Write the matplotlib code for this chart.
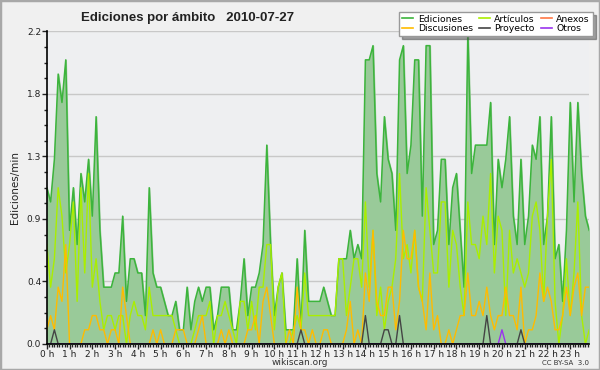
import matplotlib
matplotlib.use("Agg")
import matplotlib.pyplot as plt
from matplotlib.ticker import MultipleLocator, FormatStrFormatter
from matplotlib.patches import Rectangle
import numpy as np

# edits per 10-minute bin, 2010-07-27 (144 bins)
ediciones = [11, 10, 13, 19, 17, 20, 8, 11, 7, 12,
             10, 13, 9, 16, 8, 4, 4, 4, 5, 5,
             9, 3, 6, 6, 5, 5, 2, 11, 5, 4,
             4, 3, 2, 2, 3, 1, 1, 4, 1, 3,
             4, 3, 4, 4, 1, 2, 4, 4, 4, 1,
             1, 3, 6, 2, 4, 4, 5, 7, 14, 7,
             2, 4, 5, 1, 1, 1, 6, 1, 8, 3,
             3, 3, 3, 4, 3, 2, 2, 6, 6, 6,
             8, 6, 7, 6, 20, 20, 21, 12, 10, 16,
             13, 12, 8, 20, 21, 12, 14, 20, 20, 9,
             21, 21, 7, 8, 13, 13, 7, 11, 12, 8,
             4, 22, 12, 14, 14, 14, 14, 17, 7, 13,
             11, 13, 16, 9, 7, 13, 7, 9, 14, 13,
             16, 7, 9, 16, 6, 7, 3, 8, 17, 10,
             17, 12, 9, 8]
articulos = [7, 4, 6, 11, 9, 5, 7, 10, 3, 11,
             5, 12, 4, 6, 3, 1, 2, 2, 1, 2,
             2, 0, 2, 3, 2, 2, 1, 4, 2, 2,
             2, 2, 2, 2, 1, 0, 0, 0, 0, 1,
             2, 2, 2, 3, 0, 2, 2, 3, 2, 1,
             0, 3, 3, 1, 3, 1, 4, 4, 7, 7,
             1, 4, 5, 0, 0, 1, 2, 1, 5, 2,
             2, 2, 2, 2, 2, 2, 2, 6, 6, 2,
             4, 6, 6, 4, 10, 4, 8, 2, 4, 1,
             3, 4, 6, 12, 6, 7, 5, 8, 4, 3,
             11, 8, 5, 5, 10, 10, 4, 8, 7, 4,
             2, 10, 7, 7, 6, 9, 7, 12, 5, 9,
             8, 2, 8, 5, 6, 5, 4, 5, 9, 10,
             8, 3, 9, 13, 3, 0, 2, 6, 2, 5,
             10, 2, 0, 1]
discusiones = [1, 2, 1, 4, 3, 7, 0, 0, 0, 0,
               1, 1, 2, 2, 1, 1, 0, 1, 1, 0,
               4, 2, 0, 0, 0, 0, 0, 0, 1, 0,
               1, 0, 0, 0, 1, 1, 1, 0, 0, 0,
               1, 2, 0, 0, 0, 0, 1, 0, 1, 0,
               0, 0, 0, 1, 1, 2, 0, 3, 4, 2,
               0, 0, 0, 0, 1, 0, 4, 1, 1, 0,
               1, 0, 0, 1, 1, 0, 0, 0, 0, 1,
               3, 0, 1, 0, 5, 3, 8, 3, 2, 2,
               4, 4, 1, 3, 8, 6, 6, 8, 4, 3,
               1, 5, 1, 2, 0, 0, 1, 0, 1, 2,
               2, 5, 2, 2, 3, 2, 4, 2, 1, 2,
               2, 4, 2, 2, 1, 4, 0, 1, 1, 2,
               5, 3, 4, 3, 1, 1, 2, 4, 2, 4,
               5, 2, 4, 4]
proyecto = [0] * 144
for i, v in [(2, 1), (67, 1), (84, 2), (89, 1), (90, 1), (93, 2), (116, 2), (125, 1)]:
    proyecto[i] = v
otros = [0] * 144
otros[120] = 1
anexos = [0] * 144

hour_labels = ["%d h" % h for h in range(24)]

t = np.arange(144) / 6.0  # hours
to_min = lambda a: np.array(a) / 10.0  # edits per minute

fig = plt.figure(figsize=(6, 3.7), dpi=100, facecolor="#f0f0f0")
fig.patches.append(Rectangle((0, 0), 1, 1, transform=fig.transFigure,
                             fill=False, edgecolor="#a8a8a8", linewidth=2.5))
ax = fig.add_axes([0.078, 0.0703, 0.904, 0.8447])
ax.set_facecolor("#eeeff1")

ax.fill_between(t, to_min(ediciones), color="#99ca99", zorder=2)
l1, = ax.plot(t, to_min(ediciones), color="#3cb43c", lw=1.1, zorder=3, label="Ediciones")
l2, = ax.plot(t, to_min(articulos), color="#aaee00", lw=1.0, zorder=4, label="Artículos")
l4, = ax.plot(t, to_min(discusiones), color="#ffbb00", lw=1.0, zorder=5, label="Discusiones")
l5, = ax.plot(t, to_min(proyecto), color="#444444", lw=1.0, zorder=6, label="Proyecto")
l3, = ax.plot(t, to_min(anexos), color="#ff7744", lw=1.0, zorder=1, label="Anexos")
l6, = ax.plot(t, to_min(otros), color="#9933ee", lw=1.0, zorder=6, label="Otros")

ax.set_xlim(0, t[-1])
ax.set_ylim(0, 2.2)
ax.set_yticks(np.arange(6) * 0.44)
ax.yaxis.set_major_formatter(FormatStrFormatter("%.1f"))
ax.yaxis.set_minor_locator(MultipleLocator(0.11))
ax.set_xticks(range(24))
ax.set_xticklabels(hour_labels)
ax.xaxis.set_minor_locator(MultipleLocator(1 / 9.0))
ax.grid(axis="y", color="#c8c8c8", lw=1.0, zorder=0)
ax.set_axisbelow(True)
for s in ["top", "right"]:
    ax.spines[s].set_visible(False)
ax.spines["left"].set_linewidth(1.2)
ax.spines["bottom"].set_linewidth(1.2)
ax.spines["left"].set_zorder(8)
ax.spines["bottom"].set_zorder(8)
ax.tick_params(axis="both", which="major", length=3.5, width=1, labelsize=6.5, pad=0.5, colors="#222222")
ax.tick_params(axis="both", which="minor", length=2.5, width=1, colors="#222222")
ax.set_ylabel("Ediciones/min", fontsize=7.5, labelpad=5, color="#222222")

fig.text(0.313, 0.952, "Ediciones por ámbito   2010-07-27", ha="center", va="center",
         fontsize=9.5, fontweight="bold", color="#222222", family="Liberation Sans")
fig.text(0.5, 0.02, "wikiscan.org", ha="center", va="center", fontsize=6.5, color="#333333")
fig.text(0.982, 0.02, "CC BY-SA  3.0", ha="right", va="center", fontsize=5, color="#333333")

leg = fig.legend([l1, l4, l2, l5, l3, l6],
                 ["Ediciones", "Discusiones", "Artículos", "Proyecto", "Anexos", "Otros"],
                 ncol=3, loc="upper right", bbox_to_anchor=(0.988, 0.968), fontsize=6.7,
                 frameon=True, fancybox=False, shadow=True, handlelength=1.2,
                 handletextpad=0.5, columnspacing=0.6, labelspacing=0.05,
                 borderpad=0.3, borderaxespad=0.0)
leg.get_frame().set_edgecolor("#999999")
leg.get_frame().set_linewidth(1.0)
for line in leg.get_lines():
    line.set_linewidth(1.2)

fig.savefig("out.png", dpi=100, facecolor=fig.get_facecolor())
